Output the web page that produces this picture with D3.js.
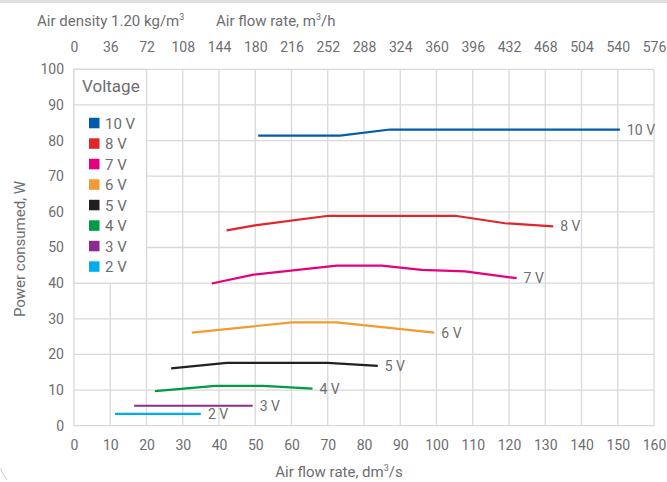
<!DOCTYPE html>
<html>
<head>
<meta charset="utf-8">
<script src="https://cdn.jsdelivr.net/npm/d3@7"></script>
<style>
  html, body { margin: 0; padding: 0; background: #fff; }
  svg { display: block; font-family: Roboto, "Noto Sans", sans-serif; }
</style>
</head>
<body>
<svg id="chart" width="667" height="482"></svg>
<script>
// Fan power curves: air flow (dm³/s) vs power consumed (W) per control voltage
const voltages = ["10 V", "8 V", "7 V", "6 V", "5 V", "4 V", "3 V", "2 V"];
const colors = ["#005bac", "#e3242b", "#e6007e", "#f39a32", "#231f20", "#009a44", "#8e2a8f", "#00aeef"];

const curve10 = [[50.8, 81.4], [73.4, 81.4], [87.2, 83.1], [150.6, 83.1]];
const curve8  = [[42.1, 54.8], [49.9, 56.2], [70.2, 58.9], [105.1, 58.9], [118.9, 56.8], [132.2, 55.9]];
const curve7  = [[38.0, 39.9], [49.5, 42.4], [72.5, 44.9], [84.9, 44.9], [95.9, 43.7], [107.9, 43.3], [122.1, 41.4]];
const curve6  = [[32.5, 26.1], [60.1, 29.0], [72.5, 29.0], [99.4, 26.1]];
const curve5  = [[26.8, 16.1], [42.1, 17.6], [70.0, 17.6], [83.8, 16.8]];
const curve4  = [[22.3, 9.7], [39.0, 11.2], [52.2, 11.2], [65.8, 10.4]];
const curve3  = [[16.6, 5.6], [49.3, 5.6]];
const curve2  = [[11.3, 3.3], [35.0, 3.3]];
const curves = [curve10, curve8, curve7, curve6, curve5, curve4, curve3, curve2];

const flowTicks = d3.range(0, 161, 10);            // dm³/s
const flowTicksH = d3.range(0, 577, 36);           // m³/h
const powerTicks = d3.range(0, 101, 10);           // W

const svg = d3.select("#chart");
const textColor = "#6d6e71";
const gridColor = "#d9d9d9";

const x = d3.scaleLinear().domain([0, 160]).range([74, 654]);
const xH = d3.scaleLinear().domain([0, 576]).range([74, 654]);
const y = d3.scaleLinear().domain([0, 100]).range([425.7, 69.3]);

// page frame
svg.append("rect").attr("x", 0).attr("y", 0).attr("width", 667).attr("height", 3).attr("fill", "#e1e1e1");
svg.append("path").attr("d", "M0.5,468 Q2,474 7,480").attr("fill", "none").attr("stroke", "#cfcfcf").attr("stroke-width", 1);

// grid
const grid = svg.append("g").attr("stroke", gridColor).attr("stroke-width", 1.3);
grid.selectAll("line.v").data(flowTicks).join("line")
  .attr("x1", d => x(d)).attr("x2", d => x(d))
  .attr("y1", y(100)).attr("y2", y(0));
grid.selectAll("line.h").data(powerTicks).join("line")
  .attr("x1", x(0)).attr("x2", x(160))
  .attr("y1", d => y(d)).attr("y2", d => y(d));

// legend box sits on the grid, covering 0–20 dm³/s and 40–100 W
const legend = svg.append("g");
legend.append("rect")
  .attr("x", x(0)).attr("y", y(100))
  .attr("width", x(20) - x(0)).attr("height", y(40) - y(100))
  .attr("fill", "#fff").attr("stroke", gridColor).attr("stroke-width", 1.3);
legend.append("line")
  .attr("x1", x(0)).attr("x2", x(20)).attr("y1", y(90)).attr("y2", y(90))
  .attr("stroke", gridColor).attr("stroke-width", 1.3);
legend.append("text").attr("x", 82).attr("y", 92)
  .attr("fill", textColor).attr("font-size", 17).text("Voltage");
const items = legend.selectAll("g.item").data(voltages).join("g")
  .attr("transform", (d, i) => `translate(89, ${123.3 + i * 20.5})`);
items.append("rect").attr("x", 0).attr("y", -5.5).attr("width", 10.5).attr("height", 10.5)
  .attr("fill", (d, i) => colors[i]);
items.append("text").attr("x", 16).attr("y", 5.5)
  .attr("fill", textColor).attr("font-size", 15).text(d => d);

// curves
const line = d3.line().x(d => x(d[0])).y(d => y(d[1]));
svg.append("g").selectAll("path").data(curves).join("path")
  .attr("d", line).attr("fill", "none")
  .attr("stroke", (d, i) => colors[i]).attr("stroke-width", 2.2);

// end labels
svg.append("g").selectAll("text").data(curves).join("text")
  .attr("x", d => x(d[d.length - 1][0]) + 7)
  .attr("y", d => y(d[d.length - 1][1]) + 5)
  .attr("fill", textColor).attr("font-size", 14)
  .text((d, i) => voltages[i]);

// left axis
const yAxis = svg.append("g").attr("transform", "translate(64,0)")
  .call(d3.axisLeft(y).tickValues(powerTicks).tickSize(0).tickPadding(0));
yAxis.select(".domain").remove();
yAxis.selectAll("text").attr("fill", textColor).attr("font-size", 14)
  .attr("font-family", "Roboto, sans-serif");

// bottom axis (labels are cut along their lower edge)
svg.append("defs").append("clipPath").attr("id", "clipBottom")
  .append("rect").attr("x", 0).attr("y", 430).attr("width", 667).attr("height", 22);
const xAxis = svg.append("g").attr("clip-path", "url(#clipBottom)")
  .append("g").attr("transform", "translate(0,440)")
  .call(d3.axisBottom(x).tickValues(flowTicks).tickSize(0).tickPadding(0));
xAxis.select(".domain").remove();
xAxis.selectAll("text").attr("fill", textColor).attr("font-size", 14)
  .attr("font-family", "Roboto, sans-serif");

// top axis (m³/h)
const xAxisTop = svg.append("g").attr("transform", "translate(0,52)")
  .call(d3.axisTop(xH).tickValues(flowTicksH).tickSize(0).tickPadding(0));
xAxisTop.select(".domain").remove();
xAxisTop.selectAll("text").attr("fill", textColor).attr("font-size", 14)
  .attr("font-family", "Roboto, sans-serif");

// titles
const t1 = svg.append("text").attr("x", 37).attr("y", 26).attr("fill", textColor).attr("font-size", 15);
t1.append("tspan").text("Air density 1.20 kg/m");
t1.append("tspan").attr("font-size", 9).attr("dy", -6).text("3");

const t2 = svg.append("text").attr("x", 216).attr("y", 26).attr("fill", textColor).attr("font-size", 15);
t2.append("tspan").text("Air flow rate, m");
t2.append("tspan").attr("font-size", 9).attr("dy", -6).text("3");
t2.append("tspan").attr("dy", 6).text("/h");

const t3 = svg.append("text").attr("x", 339).attr("y", 477).attr("text-anchor", "middle")
  .attr("fill", textColor).attr("font-size", 15);
t3.append("tspan").text("Air flow rate, dm");
t3.append("tspan").attr("font-size", 9).attr("dy", -6).text("3");
t3.append("tspan").attr("dy", 6).text("/s");

svg.append("text").attr("transform", "translate(25,249) rotate(-90)")
  .attr("text-anchor", "middle").attr("fill", textColor).attr("font-size", 15)
  .text("Power consumed, W");
</script>
</body>
</html>
